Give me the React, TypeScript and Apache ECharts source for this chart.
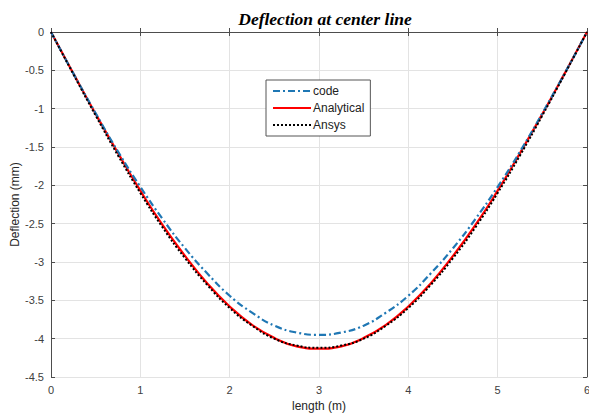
import React, { useEffect, useRef } from "react";
import * as echarts from "echarts";

const xs = [0, 0.25, 0.5, 0.75, 1, 1.25, 1.5, 1.75, 2, 2.25, 2.5, 2.75, 3, 3.25, 3.5, 3.75, 4, 4.25, 4.5, 4.75, 5, 5.25, 5.5, 5.75, 6];
const codeVals = [0, -0.54, -1.06, -1.56, -2.02, -2.44, -2.82, -3.15, -3.44, -3.66, -3.83, -3.92, -3.95, -3.92, -3.83, -3.66, -3.44, -3.15, -2.82, -2.44, -2.02, -1.56, -1.06, -0.54, 0];
const analyticalVals = [0, -0.54, -1.07, -1.58, -2.07, -2.52, -2.92, -3.28, -3.58, -3.82, -3.99, -4.10, -4.13, -4.10, -3.99, -3.82, -3.58, -3.28, -2.92, -2.52, -2.07, -1.58, -1.07, -0.54, 0];
const ansysVals = [0, -0.55, -1.09, -1.61, -2.10, -2.55, -2.95, -3.30, -3.60, -3.83, -4.00, -4.09, -4.12, -4.09, -4.00, -3.83, -3.60, -3.30, -2.95, -2.55, -2.10, -1.61, -1.09, -0.55, 0];

const title = "Deflection at center line";
const xName = "length (m)";
const yName = "Deflection (mm)";

const pairs = (vals: number[]) => xs.map((x, i) => [x, vals[i]]);

export default function App() {
  const ref = useRef<HTMLDivElement>(null);
  useEffect(() => {
    if (!ref.current) return;
    const chart = echarts.init(ref.current, null, { renderer: "svg" });
    const axisColor = "#4d4d4d";
    const labelStyle = { color: "#404040", fontSize: 11, fontFamily: "Liberation Sans, Arial, sans-serif" };
    chart.setOption({
      animation: false,
      backgroundColor: "#ffffff",
      title: {
        text: title,
        left: 320,
        textAlign: "center",
        top: 5,
        textStyle: { fontFamily: "Liberation Serif, Times New Roman, serif", fontStyle: "italic", fontWeight: "bold", fontSize: 17.5, color: "#000" },
      },
      grid: { left: 51, right: 2, top: 32, bottom: 39, containLabel: false, outerBoundsMode: "none" },
      legend: {
        orient: "vertical",
        left: 266,
        top: 80,
        itemWidth: 38,
        itemHeight: 12,
        itemGap: 5,
        padding: [5, 6, 5, 6],
        borderColor: "#555",
        borderWidth: 1,
        backgroundColor: "#fff",
        itemStyle: { opacity: 0 },
        textStyle: { fontSize: 12, color: "#222", fontFamily: "Liberation Sans, Arial, sans-serif", padding: [0, 0, 0, -3] },
        data: ["code", "Analytical", "Ansys"],
      },
      xAxis: [
        {
          type: "value", min: 0, max: 6, interval: 1,
          name: xName, nameLocation: "middle", nameGap: 23, nameMoveOverlap: false,
          nameTextStyle: { ...labelStyle, fontSize: 12, color: "#262626" },
          axisLine: { show: true, lineStyle: { color: axisColor } },
          axisTick: { show: true, inside: true, length: 4, lineStyle: { color: axisColor } },
          axisLabel: { ...labelStyle, margin: 7 },
          splitLine: { show: true, lineStyle: { color: "#e3e3e3" } },
        },
        {
          type: "value", min: 0, max: 6, interval: 1, position: "top",
          axisLine: { show: true, onZero: false, lineStyle: { color: axisColor } },
          axisTick: { show: true, inside: true, length: 4, lineStyle: { color: axisColor } },
          axisLabel: { show: false },
          splitLine: { show: false },
        },
      ],
      yAxis: [
        {
          type: "value", min: -4.5, max: 0, interval: 0.5,
          name: yName, nameLocation: "middle", nameGap: 30, nameRotate: 90, nameMoveOverlap: false,
          nameTextStyle: { ...labelStyle, fontSize: 12, color: "#262626" },
          axisLine: { show: true, onZero: false, lineStyle: { color: axisColor } },
          axisTick: { show: true, inside: true, length: 4, lineStyle: { color: axisColor } },
          axisLabel: { ...labelStyle, margin: 7 },
          splitLine: { show: true, lineStyle: { color: "#e3e3e3" } },
        },
        {
          type: "value", min: -4.5, max: 0, interval: 0.5, position: "right",
          axisLine: { show: true, onZero: false, lineStyle: { color: axisColor } },
          axisTick: { show: true, inside: true, length: 4, lineStyle: { color: axisColor } },
          axisLabel: { show: false },
          splitLine: { show: false },
        },
      ],
      series: [
        {
          name: "code", type: "line", smooth: true, symbol: "none",
          data: pairs(codeVals),
          lineStyle: { color: "#1f77b4", width: 2.2, type: [7, 3, 2, 3] },
          itemStyle: { color: "#1f77b4" },
          z: 3,
        },
        {
          name: "Analytical", type: "line", smooth: true, symbol: "none",
          data: pairs(analyticalVals),
          lineStyle: { color: "#ff0000", width: 2.2, type: "solid" },
          itemStyle: { color: "#ff0000" },
          z: 2,
        },
        {
          name: "Ansys", type: "line", smooth: true, symbol: "none",
          data: pairs(ansysVals),
          lineStyle: { color: "#000000", width: 2, type: [2, 2] },
          itemStyle: { color: "#000000" },
          z: 4,
        },
      ],
    });
    return () => chart.dispose();
  }, []);
  return <div ref={ref} style={{ width: 589, height: 416, position: "absolute", left: 0, top: 0 }} />;
}
